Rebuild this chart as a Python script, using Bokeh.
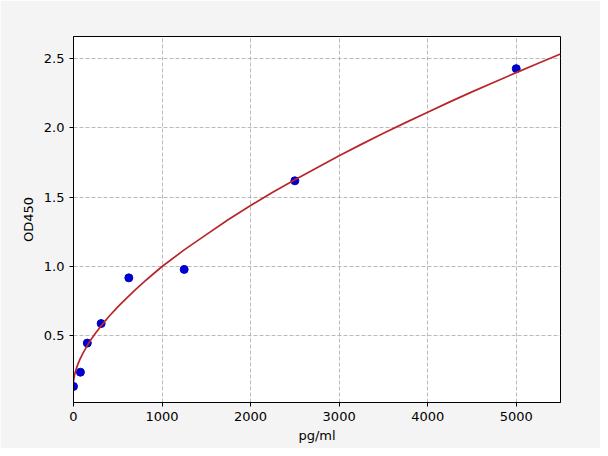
from bokeh.plotting import figure
from bokeh.models import Range1d, FixedTicker, NumeralTickFormatter
from bokeh.embed import file_html
from bokeh.resources import INLINE

# standards (pg/ml) and measured OD450
conc = [0, 78, 156, 312, 625, 1250, 2500, 5000]
od450 = [0.133, 0.236, 0.446, 0.587, 0.917, 0.978, 1.618, 2.428]

# fitted curve
fit_x = [0, 5, 10, 20, 30, 50, 75, 100, 150, 200, 250, 300, 400, 500, 600, 700,
         800, 900, 1000, 1250, 1500, 1750, 2000, 2250, 2500, 2750, 3000, 3250,
         3500, 3750, 4000, 4250, 4500, 4750, 5000, 5250, 5500]
fit_y = [0.165, 0.193, 0.210, 0.237, 0.258, 0.294, 0.332, 0.365, 0.422, 0.474,
         0.519, 0.561, 0.638, 0.707, 0.771, 0.832, 0.890, 0.945, 0.999, 1.119,
         1.229, 1.338, 1.439, 1.535, 1.625, 1.713, 1.798, 1.881, 1.961, 2.038,
         2.113, 2.188, 2.260, 2.330, 2.399, 2.467, 2.533]

x_ticks = [0, 1000, 2000, 3000, 4000, 5000]
y_ticks = [0.5, 1.0, 1.5, 2.0, 2.5]

p = figure(width=600, height=448, output_backend="svg", toolbar_location=None,
           x_range=Range1d(0, 5500), y_range=Range1d(0.017, 2.66),
           x_axis_label="pg/ml", y_axis_label="OD450",
           min_border_left=73, min_border_right=40,
           min_border_top=36, min_border_bottom=46)

p.border_fill_color = "#f4f4f4"
p.background_fill_color = "white"
p.outline_line_color = "black"
p.outline_line_width = 1

for ax in (p.xaxis, p.yaxis):
    ax.axis_line_color = "black"
    ax.major_tick_line_color = "black"
    ax.major_tick_out = 4
    ax.major_tick_in = 0
    ax.minor_tick_line_color = None
    ax.major_label_text_font = "DejaVu Sans"
    ax.major_label_text_font_size = "13px"
    ax.major_label_text_color = "black"
    ax.axis_label_text_font = "DejaVu Sans"
    ax.axis_label_text_font_size = "13px"
    ax.axis_label_text_font_style = "normal"
    ax.axis_label_text_color = "black"

p.xaxis.ticker = FixedTicker(ticks=x_ticks)
p.yaxis.ticker = FixedTicker(ticks=y_ticks)
p.yaxis.formatter = NumeralTickFormatter(format="0.0")
p.xaxis.axis_label_standoff = 4
p.yaxis.axis_label_standoff = 5

p.grid.grid_line_color = "#aaaaaa"
p.grid.grid_line_dash = "4 2"
p.grid.grid_line_width = 0.8

# data points, then the curve on top
p.scatter(conc, od450, size=8, color="#0000cc")
p.line(fit_x, fit_y, line_width=1.7, color="#b8262a")

open("out.html", "w").write(file_html(p, INLINE))
